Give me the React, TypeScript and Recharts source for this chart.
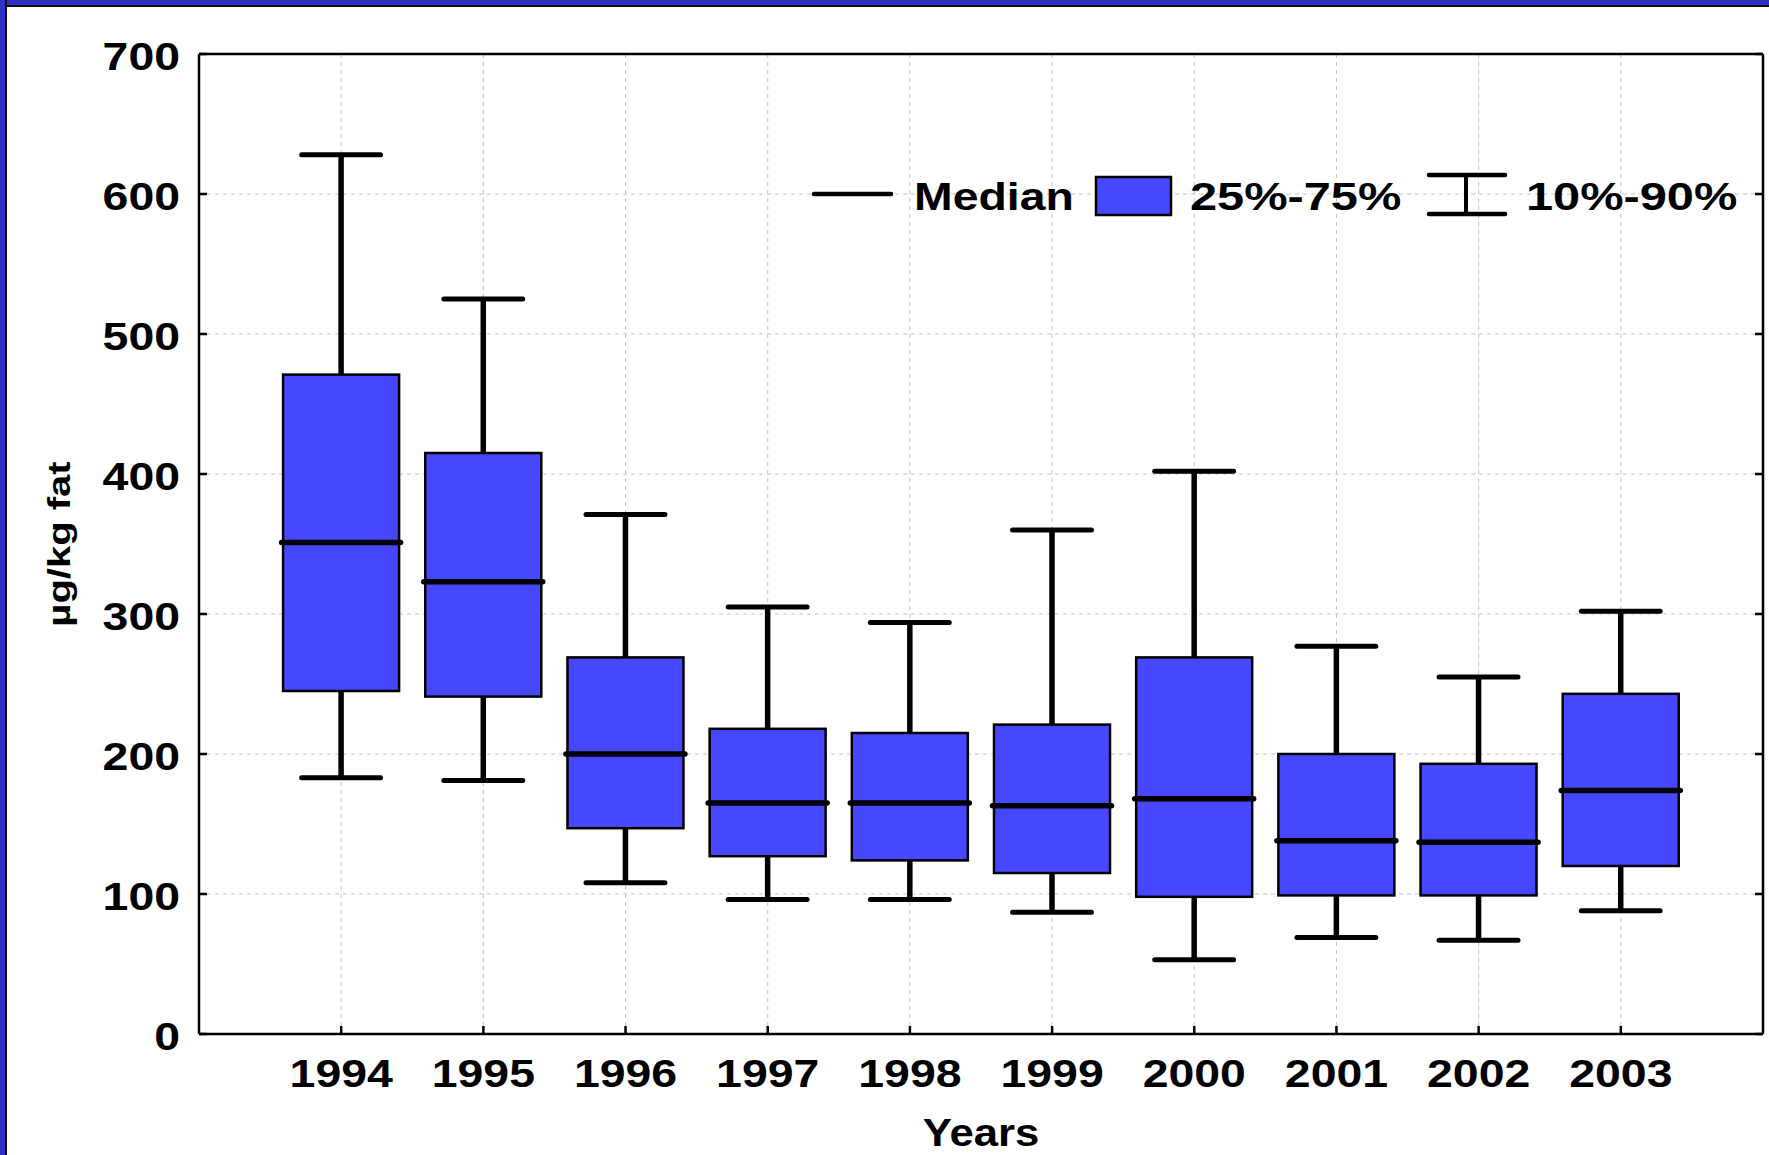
import React from "react";
import {
  ComposedChart,
  Bar,
  XAxis,
  YAxis,
  CartesianGrid,
  Legend,
  Label,
} from "recharts";

// yearly distribution, µg/kg fat
const years = [1994, 1995, 1996, 1997, 1998, 1999, 2000, 2001, 2002, 2003];
const p10 = [183, 181, 108, 96, 96, 87, 53, 69, 67, 88];
const q1 = [245, 241, 147, 127, 124, 115, 98, 99, 99, 120];
const median = [351, 323, 200, 165, 165, 163, 168, 138, 137, 174];
const q3 = [471, 415, 269, 218, 215, 221, 269, 200, 193, 243];
const p90 = [628, 525, 371, 305, 294, 360, 402, 277, 255, 302];
const yTicks = [0, 100, 200, 300, 400, 500, 600, 700];

const BOX_FILL = "#4747ff";
const FRAME_BLUE = "#3431c8";
const FONT = "'Liberation Sans', Arial, Helvetica, sans-serif";
const STRETCH = 1.19;
const TICK_LEN = 8;

const data = years.map((year, i) => ({
  year,
  p10: p10[i],
  q1: q1[i],
  median: median[i],
  q3: q3[i],
  p90: p90[i],
}));

function BoxShape(props: any) {
  const { x, y, width, height, payload } = props;
  if (!payload) return null;
  const top = Math.min(y, y + height);
  const bottom = Math.max(y, y + height);
  const k = (bottom - top) / (payload.p90 - payload.p10);
  const py = (v: number) => bottom - (v - payload.p10) * k;
  const cx = x + width / 2;
  const capHalf = width * 0.34;
  return (
    <g>
      <line x1={cx} x2={cx} y1={py(payload.p90)} y2={py(payload.q3)} stroke="#000" strokeWidth={5.5} />
      <line x1={cx} x2={cx} y1={py(payload.q1)} y2={py(payload.p10)} stroke="#000" strokeWidth={5.5} />
      <line x1={cx - capHalf} x2={cx + capHalf} y1={py(payload.p90)} y2={py(payload.p90)} stroke="#000" strokeWidth={5} strokeLinecap="round" />
      <line x1={cx - capHalf} x2={cx + capHalf} y1={py(payload.p10)} y2={py(payload.p10)} stroke="#000" strokeWidth={5} strokeLinecap="round" />
      <rect
        x={x}
        y={py(payload.q3)}
        width={width}
        height={py(payload.q1) - py(payload.q3)}
        fill={BOX_FILL}
        stroke="#000"
        strokeWidth={2.5}
      />
      <line x1={x - 1.5} x2={x + width + 1.5} y1={py(payload.median)} y2={py(payload.median)} stroke="#000" strokeWidth={5.5} strokeLinecap="round" />
    </g>
  );
}

function BottomTick(props: any) {
  const { x, y, payload } = props;
  return (
    <g>
      <line x1={x} x2={x} y1={y} y2={y - TICK_LEN} stroke="#000" strokeWidth={2.5} />
      <text
        transform={`translate(${x},${y + 53}) scale(${STRETCH},1)`}
        textAnchor="middle"
        fontFamily={FONT}
        fontWeight="bold"
        fontSize={39}
        fill="#000"
      >
        {payload.value}
      </text>
    </g>
  );
}

function LeftTick(props: any) {
  const { x, y, payload } = props;
  return (
    <g>
      <line x1={x} x2={x + TICK_LEN} y1={y} y2={y} stroke="#000" strokeWidth={2.5} />
      <text
        transform={`translate(${x - 19},${y + 16}) scale(${STRETCH},1)`}
        textAnchor="end"
        fontFamily={FONT}
        fontWeight="bold"
        fontSize={39}
        fill="#000"
      >
        {payload.value}
      </text>
    </g>
  );
}

function TopTick(props: any) {
  const { x, y } = props;
  return <line x1={x} x2={x} y1={y} y2={y + TICK_LEN} stroke="#000" strokeWidth={2.5} />;
}

function RightTick(props: any) {
  const { x, y } = props;
  return <line x1={x} x2={x - TICK_LEN} y1={y} y2={y} stroke="#000" strokeWidth={2.5} />;
}

function LegendBox() {
  const textProps = {
    fontFamily: FONT,
    fontWeight: "bold" as const,
    fontSize: 39,
    fill: "#000",
  };
  return (
    <svg width={960} height={80} style={{ overflow: "visible" }}>
      <line x1={14} x2={91} y1={44} y2={44} stroke="#000" strokeWidth={4.5} strokeLinecap="round" />
      <text transform={`translate(114,60) scale(${STRETCH},1)`} {...textProps}>
        Median
      </text>
      <rect x={296} y={27} width={75} height={38} fill={BOX_FILL} stroke="#000" strokeWidth={2.5} />
      <text transform={`translate(390,60) scale(1.25,1)`} {...textProps}>
        25%-75%
      </text>
      <line x1={666} x2={666} y1={25} y2={64} stroke="#000" strokeWidth={4} />
      <line x1={629} x2={705} y1={25} y2={25} stroke="#000" strokeWidth={4.5} strokeLinecap="round" />
      <line x1={629} x2={705} y1={64} y2={64} stroke="#000" strokeWidth={4.5} strokeLinecap="round" />
      <text transform={`translate(726,60) scale(1.25,1)`} {...textProps}>
        10%-90%
      </text>
    </svg>
  );
}

export default function App() {
  return (
    <div style={{ position: "absolute", left: 0, top: 0, width: 1769, height: 1155, background: "#fff", overflow: "hidden" }}>
      <ComposedChart
        width={1769}
        height={1155}
        data={data}
        margin={{ top: 44, right: 5, bottom: 0, left: 49 }}
      >
        <CartesianGrid stroke="#c4c4c4" strokeDasharray="4 4" strokeWidth={1} />
        <XAxis
          dataKey="year"
          type="number"
          domain={[1993, 2004]}
          ticks={years}
          interval={0}
          allowDataOverflow
          height={121}
          tickSize={0}
          tickMargin={0}
          tickLine={false}
          axisLine={{ stroke: "#000", strokeWidth: 2.5 }}
          tick={<BottomTick />}
        >
          <Label
            content={(p: any) => {
              const vb = p.viewBox || {};
              const cx = vb.x + vb.width / 2;
              return (
                <text
                  transform={`translate(${cx},${vb.y + 112}) scale(1.15,1)`}
                  textAnchor="middle"
                  fontFamily={FONT}
                  fontWeight="bold"
                  fontSize={38}
                  fill="#000"
                >
                  Years
                </text>
              );
            }}
          />
        </XAxis>
        <XAxis
          xAxisId="top"
          orientation="top"
          type="number"
          domain={[1993, 2004]}
          ticks={years}
          interval={0}
          allowDataOverflow
          height={10}
          tickSize={0}
          tickMargin={0}
          tickLine={false}
          axisLine={{ stroke: "#000", strokeWidth: 2.5 }}
          tick={<TopTick />}
        />
        <YAxis
          type="number"
          domain={[0, 700]}
          ticks={yTicks}
          interval={0}
          allowDataOverflow
          width={150}
          tickSize={0}
          tickMargin={0}
          tickLine={false}
          axisLine={{ stroke: "#000", strokeWidth: 2.5 }}
          tick={<LeftTick />}
        >
          <Label
            content={(p: any) => {
              const vb = p.viewBox || {};
              const cy = vb.y + vb.height / 2;
              return (
                <text
                  transform={`translate(${vb.x + 21},${cy}) rotate(-90) scale(1.25,1)`}
                  textAnchor="middle"
                  fontFamily={FONT}
                  fontWeight="bold"
                  fontSize={32}
                  fill="#000"
                >
                  µg/kg fat
                </text>
              );
            }}
          />
        </YAxis>
        <YAxis
          yAxisId="right"
          orientation="right"
          type="number"
          domain={[0, 700]}
          ticks={yTicks}
          interval={0}
          allowDataOverflow
          width={1}
          tickSize={0}
          tickMargin={0}
          tickLine={false}
          axisLine={{ stroke: "#000", strokeWidth: 2.5 }}
          tick={<RightTick />}
        />
        <Bar
          dataKey={(d: any) => [d.p10, d.p90]}
          barSize={116}
          isAnimationActive={false}
          shape={(props: any) => <BoxShape {...props} />}
        />
        <Legend
          layout="horizontal"
          verticalAlign="middle"
          align="center"
          wrapperStyle={{ position: "absolute", left: 800, top: 150, width: 960, height: 80 }}
          content={() => <LegendBox />}
        />
      </ComposedChart>
      {/* blue frame along the top and left edges */}
      <div style={{ position: "absolute", left: 0, top: 0, width: 1769, height: 5, background: FRAME_BLUE, borderBottom: "2px solid #111" }} />
      <div style={{ position: "absolute", left: 0, top: 0, width: 5, height: 1155, background: FRAME_BLUE, borderRight: "2px solid #111" }} />
    </div>
  );
}
